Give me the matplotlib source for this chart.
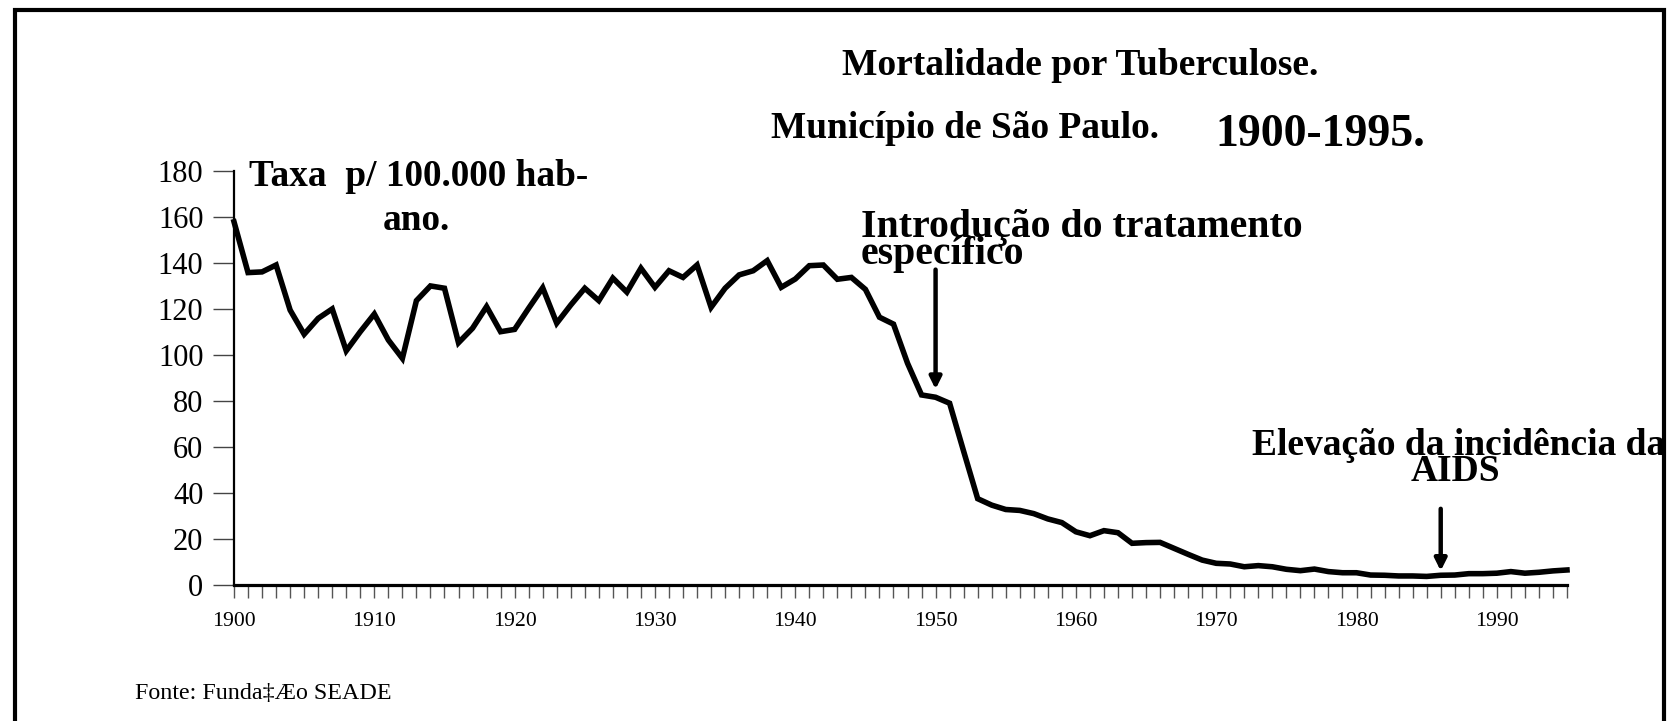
import matplotlib
matplotlib.use("Agg")
import matplotlib.pyplot as plt
from matplotlib.lines import Line2D
from matplotlib.ticker import FixedLocator, MultipleLocator

# ---- data ----
start_year = 1900
end_year = 1995
rates = [157.8, 135.7, 136.0, 139.0, 119.4, 108.9, 115.8, 119.9, 101.7, 110.0,
         117.7, 106.4, 98.4, 123.5, 129.9, 128.9, 105.2, 111.5, 120.9, 110.0,
         111.0, 120.2, 129.1, 113.7, 121.6, 128.9, 123.5, 133.3, 127.2, 137.6,
         129.3, 136.5, 133.6, 139.0, 120.6, 128.9, 134.7, 136.5, 140.9, 129.3,
         132.9, 138.7, 139.0, 132.8, 133.6, 128.4, 116.3, 113.3, 96.3, 82.5,
         81.5, 78.9, 58.0, 37.4, 34.6, 32.7, 32.3, 30.9, 28.6, 27.0,
         23.0, 21.3, 23.5, 22.6, 18.0, 18.3, 18.4, 15.8, 13.2, 10.7,
         9.3, 9.0, 7.8, 8.3, 7.8, 6.7, 6.1, 6.8, 5.7, 5.2,
         5.2, 4.2, 4.1, 3.8, 3.8, 3.6, 4.1, 4.2, 4.8, 4.8,
         5.0, 5.7, 5.0, 5.4, 6.0, 6.4]
years = list(range(start_year, end_year + 1))
y_ticks = [0, 20, 40, 60, 80, 100, 120, 140, 160, 180]
x_tick_labels = [1900, 1910, 1920, 1930, 1940, 1950, 1960, 1970, 1980, 1990]

title1 = "Mortalidade por Tuberculose."
title2 = "Município de São Paulo."
title3 = "1900-1995."
ylab1 = "Taxa  p/ 100.000 hab-"
ylab2 = "ano."
ann1_l1 = "Introdução do tratamento"
ann1_l2 = "específico"
ann1_year, ann1_top, ann1_tip = 1950, 137, 85
ann2_l1 = "Elevação da incidência da"
ann2_l2 = "AIDS"
ann2_year, ann2_top, ann2_tip = 1986, 33, 6
source = "Fonte: Funda‡Æo SEADE"

W, H = 1671, 721
fig = plt.figure(figsize=(W / 100, H / 100), dpi=100)
plt.rcParams['font.family'] = ['Liberation Serif', 'DejaVu Serif']

def fx(px):
    return px / W

def fy(py):
    return 1 - py / H

ax_left, ax_right, ax_top, ax_bot = 234, 1567, 170.7, 584.7
ax = fig.add_axes([fx(ax_left), fy(ax_bot), (ax_right - ax_left) / W, (ax_bot - ax_top) / H])

ax.plot(years, rates, color='black', lw=4.0, solid_joinstyle='miter', clip_on=False, zorder=3)
ax.set_xlim(start_year, end_year)
ax.set_ylim(0, 180)

for s in ['top', 'right']:
    ax.spines[s].set_visible(False)
ax.spines['left'].set_linewidth(1.6)
ax.spines['bottom'].set_linewidth(2.3)
ax.spines['bottom'].set_zorder(4)

ax.yaxis.set_major_locator(FixedLocator(y_ticks))
ax.tick_params(axis='y', direction='out', length=15, width=1.0, color='#444444',
               labelsize=22, pad=7)
ax.xaxis.set_major_locator(FixedLocator(x_tick_labels))
ax.xaxis.set_minor_locator(MultipleLocator(1))
ax.tick_params(axis='x', which='both', direction='out', length=9.5, width=1.0,
               color='#555555', labelsize=15.7, pad=10)

# annotation arrows
for yr, top, tip in [(ann1_year, ann1_top, ann1_tip), (ann2_year, ann2_top, ann2_tip)]:
    ax.annotate('', xy=(yr, tip), xytext=(yr, top),
                arrowprops=dict(arrowstyle='-|>,head_length=0.7,head_width=0.35',
                                color='black', lw=3.2, shrinkA=0, shrinkB=0),
                annotation_clip=False)

# texts
fig.text(fx(1080), fy(75), title1, ha='center', va='baseline', fontsize=27, fontweight='bold')
fig.text(fx(771), fy(138), title2, ha='left', va='baseline', fontsize=26.9, fontweight='bold')
fig.text(fx(1215), fy(146), title3, ha='left', va='baseline', fontsize=33, fontweight='bold')
fig.text(fx(249), fy(186), ylab1, ha='left', va='baseline', fontsize=26.8, fontweight='bold')
fig.text(fx(416), fy(230), ylab2, ha='center', va='baseline', fontsize=26.8, fontweight='bold')
fig.text(fx(861), fy(237), ann1_l1, ha='left', va='baseline', fontsize=28.6, fontweight='bold')
fig.text(fx(861), fy(264), ann1_l2, ha='left', va='baseline', fontsize=28.6, fontweight='bold')
fig.text(fx(1252), fy(455), ann2_l1, ha='left', va='baseline', fontsize=27, fontweight='bold')
fig.text(fx(1455), fy(481), ann2_l2, ha='center', va='baseline', fontsize=27, fontweight='bold')
fig.text(fx(135), fy(699), source, ha='left', va='baseline', fontsize=17.3)

# frame
lw_frame = 3.0
fig.add_artist(Line2D([fx(15), fx(15), fx(1664), fx(1664)], [0, fy(10), fy(10), 0],
                      transform=fig.transFigure, color='black', lw=lw_frame,
                      solid_joinstyle='miter'))

fig.savefig("out.png", dpi=100)
